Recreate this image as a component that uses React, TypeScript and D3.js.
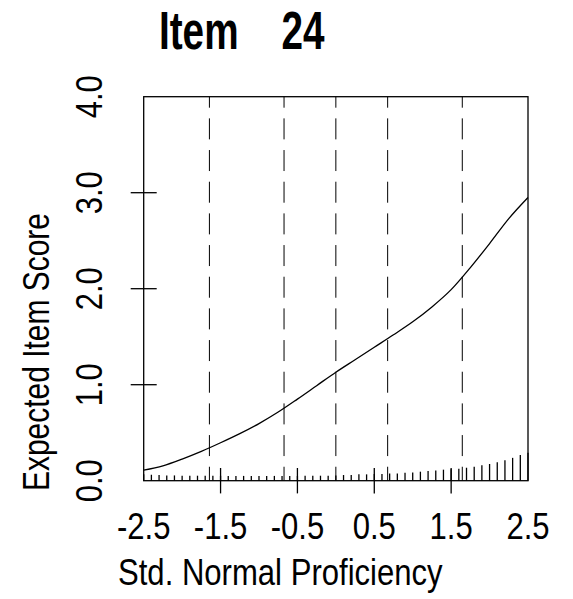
import React from "react";
import * as d3 from "d3";

const W = 573;
const H = 599;

// Expected item score curve (theta, score)
const thetaPts = [-2.5, -2.25, -2.0, -1.75, -1.5, -1.25, -1.0, -0.75, -0.5, -0.25, 0, 0.25, 0.5, 0.75, 1.0, 1.25, 1.5, 1.75, 2.0, 2.25, 2.5];
const scorePts = [0.11, 0.155, 0.225, 0.305, 0.395, 0.49, 0.595, 0.715, 0.85, 0.99, 1.13, 1.26, 1.39, 1.52, 1.655, 1.81, 1.99, 2.22, 2.47, 2.73, 2.95];

// Rug / density spikes along the bottom
const rugTheta = [
  -2.5, -2.4, -2.3, -2.2, -2.1, -2.0, -1.9, -1.8, -1.7, -1.6, -1.5, -1.4, -1.3, -1.2, -1.1, -1.0, -0.9,
  -0.8, -0.7, -0.6, -0.5, -0.4, -0.3, -0.2, -0.1, 0.0, 0.1, 0.2, 0.3, 0.4, 0.5, 0.6, 0.7, 0.8, 0.9,
  1.0, 1.1, 1.2, 1.3, 1.4, 1.5, 1.6, 1.7, 1.8, 1.9, 2.0, 2.1, 2.2, 2.3, 2.4, 2.5,
];
const rugHeight = [
  0.066, 0.062, 0.059, 0.055, 0.055, 0.052, 0.052, 0.052, 0.052, 0.052, 0.052, 0.05, 0.05, 0.05, 0.05, 0.05, 0.05,
  0.05, 0.05, 0.05, 0.05, 0.052, 0.052, 0.052, 0.052, 0.055, 0.059, 0.059, 0.066, 0.066, 0.07, 0.07, 0.076, 0.076, 0.083,
  0.086, 0.094, 0.101, 0.107, 0.115, 0.12, 0.124, 0.135, 0.146, 0.16, 0.174, 0.193, 0.212, 0.238, 0.268, 0.29,
];

// Normal quantiles (5%, 25%, 50%, 75%, 95%)
const quantiles = [-1.645, -0.674, 0, 0.674, 1.645];

const xTickVals = [-1.5, -0.5, 0.5, 1.5];
const xLabelVals = [-2.5, -1.5, -0.5, 0.5, 1.5, 2.5];
const xLabels = ["-2.5", "-1.5", "-0.5", "0.5", "1.5", "2.5"];
const yTickVals = [1, 2, 3];
const yLabelVals = [0, 1, 2, 3, 4];
const yLabels = ["0.0", "1.0", "2.0", "3.0", "4.0"];

const FONT = "'Liberation Sans Narrow', 'Arial Narrow', 'Liberation Sans', Arial, sans-serif";
const SX = 0.84; // horizontal condensing for regular text
const SXY = 0.81; // condensing for y-axis title
const SXT = 0.73; // horizontal condensing for bold title

export default function App() {
  const left = 143.7, right = 528, top = 96.7, bottom = 480.7;
  const x = d3.scaleLinear().domain([-2.5, 2.5]).range([left, right]);
  const y = d3.scaleLinear().domain([0, 4]).range([bottom, top]);

  const line = d3
    .line<number>()
    .x((_, i) => x(thetaPts[i]))
    .y((d) => y(d))
    .curve(d3.curveMonotoneX);

  const tl = 12.7;

  return (
    <svg
      width={W}
      height={H}
      style={{ position: "absolute", left: 0, top: 0, background: "#fff" }}
      fontFamily={FONT}
    >
      <rect x={0} y={0} width={W} height={H} fill="#fff" />
      {/* Title */}
      <text
        transform={`translate(159,49.3) scale(${SXT},1)`}
        fontSize={53}
        fontWeight="bold"
        fill="#000"
        style={{ whiteSpace: "pre" }}
      >
        {"Item    24"}
      </text>

      {/* quantile dashed lines */}
      {quantiles.map((q, i) => (
        <line
          key={"q" + i}
          x1={x(q)}
          x2={x(q)}
          y1={top}
          y2={bottom}
          stroke="#000"
          strokeWidth={1}
          strokeDasharray="21 10.67"
          strokeDashoffset={10}
        />
      ))}

      {/* rug spikes */}
      {rugTheta.map((t, i) => (
        <line
          key={"r" + i}
          x1={x(t)}
          x2={x(t)}
          y1={y(0)}
          y2={y(rugHeight[i])}
          stroke="#000"
          strokeWidth={1.3}
        />
      ))}

      {/* curve */}
      <path d={line(scorePts) || ""} fill="none" stroke="#000" strokeWidth={1.3} />

      {/* box */}
      <rect x={left} y={top} width={right - left} height={bottom - top} fill="none" stroke="#000" strokeWidth={1.3} />

      {/* x ticks */}
      {xTickVals.map((v, i) => (
        <line key={"xt" + i} x1={x(v)} x2={x(v)} y1={bottom - tl} y2={bottom + tl} stroke="#000" strokeWidth={1.3} />
      ))}
      {xLabelVals.map((v, i) => (
        <text
          key={"xl" + i}
          transform={`translate(${x(v)},539.3) scale(${SX},1)`}
          fontSize={37}
          textAnchor="middle"
          fill="#000"
        >
          {xLabels[i]}
        </text>
      ))}

      {/* y ticks */}
      {yTickVals.map((v, i) => (
        <line key={"yt" + i} x1={left - 13} x2={left + 13} y1={y(v)} y2={y(v)} stroke="#000" strokeWidth={1.3} />
      ))}
      {yLabelVals.map((v, i) => (
        <text
          key={"yl" + i}
          transform={`translate(101.7,${y(v)}) rotate(-90) scale(${SX},1)`}
          fontSize={37}
          textAnchor="middle"
          fill="#000"
        >
          {yLabels[i]}
        </text>
      ))}

      {/* axis titles */}
      <text transform={`translate(118,585) scale(${SX},1)`} fontSize={37} fill="#000">
        Std. Normal Proficiency
      </text>
      <text
        transform={`translate(49.3,213) rotate(-90) scale(${SXY},1)`}
        fontSize={37}
        textAnchor="end"
        fill="#000"
      >
        Expected Item Score
      </text>
    </svg>
  );
}
